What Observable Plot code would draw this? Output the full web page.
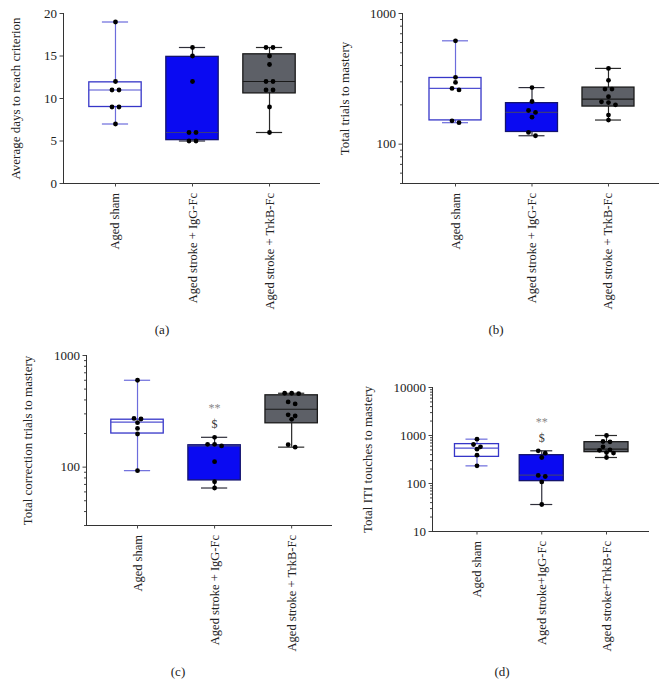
<!DOCTYPE html>
<html>
<head>
<meta charset="utf-8">
<script src="https://cdn.jsdelivr.net/npm/d3@7"></script>
<script src="https://cdn.jsdelivr.net/npm/@observablehq/plot@0.6"></script>
<style>
  body { margin: 0; background: #fff; }
  #wrap { position: relative; width: 668px; height: 698px; background: #fff; font-family: "Liberation Serif", "DejaVu Serif", serif; color: #222; }
  .panel { position: absolute; }
  .cap { position: absolute; font-size: 13px; transform: translate(-50%, -50%); }
</style>
</head>
<body>
<div id="wrap"></div>
<script>
// ---- categories / tick labels ----
const categories = ["Aged sham", "Aged stroke + IgG-Fc", "Aged stroke + TrkB-Fc"];
const categoriesD = ["Aged sham", "Aged stroke+IgG-Fc", "Aged stroke+TrkB-Fc"];

// ---- (a) Average days to reach criterion ----
const daysSham = [19, 12, 11, 11, 9, 9, 7];
const daysIgG = [16, 15, 12, 6, 6, 5, 5];
const daysTrkB = [16, 16, 15, 14, 12, 12, 11, 11, 9, 6];
// box stats: [min, q1, median, q3, max]
const daysBox = [[7, 9, 11, 11.9, 19], [5, 5.1, 6, 14.9, 16], [6, 10.6, 12, 15.2, 16]];
const daysTicks = [0, 5, 10, 15, 20];

// ---- (b) Total trials to mastery ----
const trialsSham = [618, 325, 297, 267, 260, 151, 146];
const trialsIgG = [271, 212, 181, 175, 161, 123, 116];
const trialsTrkB = [380, 308, 264, 264, 231, 211, 208, 200, 167, 153];
const trialsBox = [[146, 152, 267, 321, 618], [116, 124, 175, 206, 271], [153, 194, 221, 271, 380]];
const trialsTicks = [100, 1000];

// ---- (c) Total correction trials to mastery ----
const corrSham = [600, 273, 270, 250, 222, 198, 93];
const corrIgG = [185, 160, 160, 155, 112, 74, 65];
const corrTrkB = [459, 459, 455, 384, 368, 294, 287, 268, 159, 151];
const corrBox = [[93, 200, 253, 266, 600], [65, 76, 155, 157, 185], [151, 247, 330, 440, 459]];
const corrTicks = [100, 1000];

// ---- (d) Total ITI touches to mastery ----
const itiSham = [839, 650, 580, 519, 389, 233];
const itiIgG = [480, 429, 348, 147, 140, 108, 36.5];
const itiTrkB = [1000, 750, 740, 580, 500, 490, 440, 430, 348];
const itiBox = [[233, 359, 545, 661, 839], [36.5, 112, 149, 389, 480], [348, 450, 519, 726, 1000]];
const itiTicks = [10, 100, 1000, 10000];

// significance annotations (group index, symbols)
const annotGroup = 1;
const annotSymbols = ["**", "$"];

// ---- styles ----
const groupStyles = [
  {fill: "#ffffff", stroke: "#3636c8", whisker: "#6c6cdc", median: "#5050d2"},
  {fill: "#0a0af2", stroke: "#14146e", whisker: "#2e2e3a", median: "#3a3a80"},
  {fill: "#5d6067", stroke: "#1a1a1a", whisker: "#2a2a2a", median: "#1a1a1a"}
];

function logMinor(lo, hi) {
  const out = [];
  for (let p = Math.floor(Math.log10(lo)); p <= Math.ceil(Math.log10(hi)); p++) {
    for (let k = 2; k <= 9; k++) {
      const v = k * Math.pow(10, p);
      if (v >= lo && v <= hi) out.push(v);
    }
  }
  return out;
}

const panels = [
  {cap: "(a)", capX: 162, capY: 330, left: 0, top: 0, width: 334, height: 320,
   m: {top: 13, right: 14, bottom: 137, left: 63}, xDomain: [-0.675, 2.662],
   yType: "linear", yDomain: [0, 20], ticks: daysTicks, minor: [],
   labels: categories, yLabel: "Average days to reach criterion", labelOffset: 48,
   series: [daysSham, daysIgG, daysTrkB], box: daysBox, annot: false},
  {cap: "(b)", capX: 496, capY: 330, left: 334, top: 0, width: 334, height: 320,
   m: {top: 13, right: 9, bottom: 137, left: 68}, xDomain: [-0.693, 2.667],
   yType: "log", yDomain: [50, 1000], ticks: trialsTicks, minor: logMinor(50, 1000),
   labels: categories, yLabel: "Total trials to mastery", labelOffset: 58,
   series: [trialsSham, trialsIgG, trialsTrkB], box: trialsBox, annot: false},
  {cap: "(c)", capX: 178, capY: 672, left: 0, top: 340, width: 334, height: 340,
   m: {top: 15, right: 2, bottom: 155, left: 86}, xDomain: [-0.662, 2.53],
   yType: "log", yDomain: [30, 1000], ticks: corrTicks, minor: logMinor(30, 1000),
   labels: categories, yLabel: "Total correction trials to mastery", labelOffset: 59,
   series: [corrSham, corrIgG, corrTrkB], box: corrBox, annot: true},
  {cap: "(d)", capX: 502, capY: 672, left: 334, top: 340, width: 334, height: 340,
   m: {top: 47, right: 19, bottom: 149, left: 98}, xDomain: [-0.687, 2.664],
   yType: "log", yDomain: [10, 10000], ticks: itiTicks, minor: logMinor(10, 10000),
   labels: categoriesD, yLabel: "Total ITI touches to mastery", labelOffset: 65,
   series: [itiSham, itiIgG, itiTrkB], box: itiBox, annot: true}
];

const BOX_HALF = 0.34, CAP_HALF = 0.17, SPACING = 7, THRESH = 3.5;

function jitter(values, center, xs, ys) {
  const pts = values.map(v => ({v, py: ys.apply(v)})).sort((a, b) => a.py - b.py);
  const rows = [];
  for (const p of pts) {
    const row = rows[rows.length - 1];
    if (row && p.py - row[0].py < THRESH) row.push(p); else rows.push([p]);
  }
  const out = [];
  for (const row of rows) {
    const n = row.length;
    row.forEach((p, k) => {
      out.push({x: xs.invert(xs.apply(center) + (k - (n - 1) / 2) * SPACING), y: p.v});
    });
  }
  return out;
}

const wrap = document.getElementById("wrap");
for (const P of panels) {
  const xs = Plot.scale({x: {type: "linear", domain: P.xDomain, range: [P.m.left, P.width - P.m.right]}});
  const ys = Plot.scale({y: {type: P.yType, domain: P.yDomain, range: [P.height - P.m.bottom, P.m.top]}});
  const marks = [];
  // axis lines
  marks.push(Plot.ruleY([P.yDomain[0]], {stroke: "#333", strokeWidth: 1}));
  marks.push(Plot.ruleX([P.xDomain[0]], {stroke: "#333", strokeWidth: 1}));
  P.box.forEach((b, i) => {
    const s = groupStyles[i];
    const [mn, q1, md, q3, mx] = b;
    marks.push(Plot.ruleX([{x: i, y1: mn, y2: mx}], {x: "x", y1: "y1", y2: "y2", stroke: s.whisker, strokeWidth: 1.2}));
    marks.push(Plot.ruleY([mn, mx], {y: d => d, x1: i - CAP_HALF, x2: i + CAP_HALF, stroke: s.whisker, strokeWidth: 1.2}));
    marks.push(Plot.rect([{q1, q3}], {x1: i - BOX_HALF, x2: i + BOX_HALF, y1: "q1", y2: "q3", fill: s.fill, stroke: s.stroke, strokeWidth: 1.3}));
    marks.push(Plot.ruleY([md], {y: d => d, x1: i - BOX_HALF, x2: i + BOX_HALF, stroke: s.median, strokeWidth: 1.2}));
    const pts = jitter(P.series[i], i, xs, ys);
    marks.push(Plot.dot(pts, {x: "x", y: "y", r: 2.4, fill: "#000", stroke: "none"}));
    if (P.annot && i === annotGroup) {
      marks.push(Plot.text([mx], {x: i, y: d => d, text: () => annotSymbols[0], dy: -29, fill: "#888", fontSize: 12}));
      marks.push(Plot.text([mx], {x: i, y: d => d, text: () => annotSymbols[1], dy: -13, fill: "#333", fontSize: 12}));
    }
  });
  // y axis
  if (P.minor.length) marks.push(Plot.axisY({ticks: P.minor, tickSize: 2, tickFormat: () => "", label: null, stroke: "#444"}));
  marks.push(Plot.axisY({ticks: P.ticks, tickSize: 3.5, tickPadding: 3, tickFormat: d => String(d), label: null, stroke: "#444", fill: "#222", fontSize: 13}));
  // x axis
  marks.push(Plot.axisX({ticks: [0, 1, 2], tickSize: 3.5, tickPadding: 6, tickRotate: -90, tickFormat: i => P.labels[i], label: null, stroke: "#444", fill: "#222", fontSize: 12.5}));
  // y label
  marks.push(Plot.text([P.yLabel], {text: d => d, frameAnchor: "left", textAnchor: "middle", rotate: -90, dx: -P.labelOffset, fontSize: 13, fill: "#222"}));

  const chart = Plot.plot({
    width: P.width, height: P.height,
    marginTop: P.m.top, marginRight: P.m.right, marginBottom: P.m.bottom, marginLeft: P.m.left,
    x: {type: "linear", domain: P.xDomain, axis: null},
    y: {type: P.yType, domain: P.yDomain, axis: null},
    style: {fontFamily: "Liberation Serif, DejaVu Serif, serif", fontSize: "12px", color: "#222", background: "transparent", overflow: "visible"},
    marks
  });
  const div = document.createElement("div");
  div.className = "panel";
  div.style.left = P.left + "px";
  div.style.top = P.top + "px";
  div.appendChild(chart);
  wrap.appendChild(div);
  const cap = document.createElement("div");
  cap.className = "cap";
  cap.style.left = P.capX + "px";
  cap.style.top = P.capY + "px";
  cap.textContent = P.cap;
  wrap.appendChild(cap);
}
</script>
</body>
</html>
